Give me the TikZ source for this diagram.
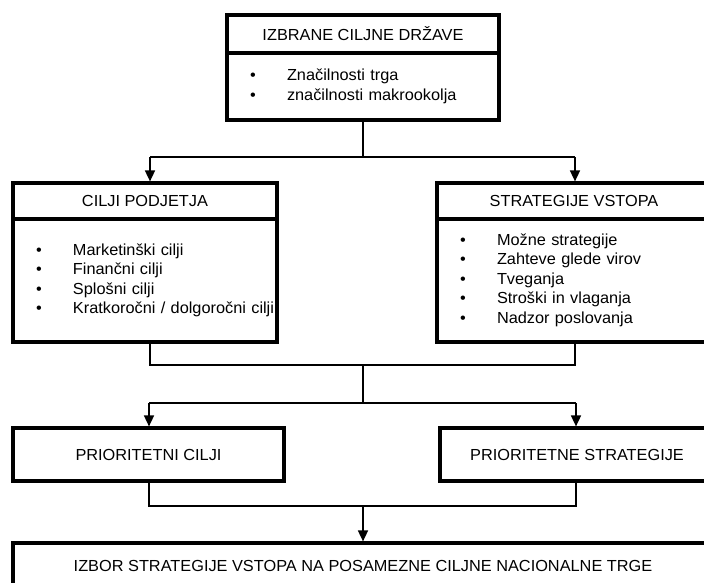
\documentclass[tikz,border=0pt]{standalone}
\usepackage{fontspec}
\setmainfont{Liberation Sans}[FakeStretch=1.02]
\usetikzlibrary{arrows.meta}
\begin{document}
\begin{tikzpicture}[x=1pt,y=-1pt,
  box/.style={draw, line width=3.2pt, rectangle, inner sep=0pt, align=center,
    font=\fontsize{16}{19.5}\selectfont},
  listbox/.style={box, align=left},
  conn/.style={line width=1.6pt},
  arr/.style={conn, -{Triangle[length=11pt,width=10pt]}}]
\useasboundingbox (0,0) rectangle (704,583);
\clip (0,0) rectangle (704,583);
% top box
\node[box, minimum width=272pt, minimum height=38pt] (toph) at (363,34) {IZBRANE CILJNE DRŽAVE};
\node[listbox, minimum width=272pt, minimum height=67pt, text width=226pt] (topb) at (363,86.5)
  {\begin{tabular}{@{}p{37pt}@{}l@{}}\textbullet & Značilnosti trga\\ \textbullet & značilnosti makrookolja\end{tabular}};
% left box
\node[box, minimum width=264pt, minimum height=36pt] (lh) at (145,201) {CILJI PODJETJA};
\node[listbox, minimum width=264pt, minimum height=123pt, text width=218pt] (lb) at (145,280.5)
  {\begin{tabular}{@{}p{37pt}@{}l@{}}\textbullet & Marketinški cilji\\ \textbullet & Finančni cilji\\ \textbullet & Splošni cilji\\ \textbullet & Kratkoročni / dolgoročni cilji\end{tabular}};
% right box
\node[box, minimum width=274pt, minimum height=36pt] (rh) at (574,201) {STRATEGIJE VSTOPA};
\node[listbox, minimum width=274pt, minimum height=123pt, text width=228pt] (rb) at (574,280.5)
  {\begin{tabular}{@{}p{37pt}@{}l@{}}\textbullet & Možne strategije\\ \textbullet & Zahteve glede virov\\ \textbullet & Tveganja\\ \textbullet & Stroški in vlaganja\\ \textbullet & Nadzor poslovanja\end{tabular}};
% priority boxes
\node[box, minimum width=271pt, minimum height=53pt] (pl) at (148.5,454.5) {PRIORITETNI CILJI};
\node[box, minimum width=274pt, minimum height=53pt] (pr) at (577,454.5) {PRIORITETNE STRATEGIJE};
% bottom box
\node[box, minimum width=700pt, minimum height=46pt] (bot) at (363,566) {IZBOR STRATEGIJE VSTOPA NA POSAMEZNE CILJNE NACIONALNE TRGE};
% junctions
\coordinate (j1) at (363,157);
\coordinate (j1l) at (150,157);
\coordinate (j1r) at (575,157);
\coordinate (j2) at (363,365);
\coordinate (j2l) at (150,365);
\coordinate (j2r) at (575,365);
\coordinate (j3) at (363,403);
\coordinate (j3l) at (149,403);
\coordinate (j3r) at (576,403);
\coordinate (j4) at (363,506);
\coordinate (j4l) at (149,506);
\coordinate (j4r) at (576,506);
% connectors
\draw[conn] (topb.south) -- (j1);
\draw[conn] (j1l) -- (j1r);
\draw[arr] (j1l) -- (j1l |- lh.north);
\draw[arr] (j1r) -- (j1r |- rh.north);
\draw[conn] (lb.south -| j2l) -- (j2l) -- (j2r) -- (rb.south -| j2r);
\draw[conn] (j2) -- (j3);
\draw[conn] (j3l) -- (j3r);
\draw[arr] (j3l) -- (j3l |- pl.north);
\draw[arr] (j3r) -- (j3r |- pr.north);
\draw[conn] (pl.south -| j4l) -- (j4l) -- (j4r) -- (pr.south -| j4r);
\draw[arr] (j4) -- (bot.north -| j4);
\end{tikzpicture}
\end{document}
